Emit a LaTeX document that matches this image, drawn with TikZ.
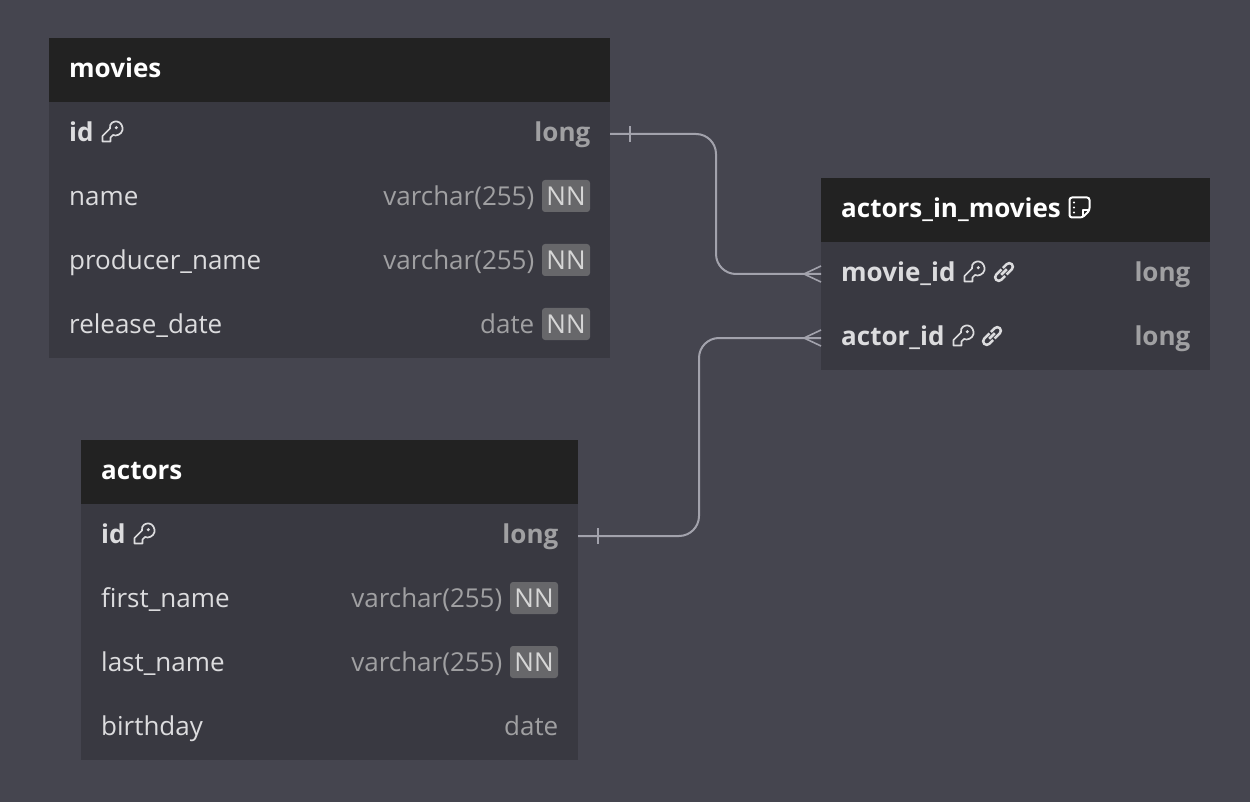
\documentclass[tikz,border=0pt]{standalone}
\usepackage{fontspec}
\setmainfont{Open Sans}
\definecolor{bgc}{HTML}{45454F}
\definecolor{hdc}{HTML}{222222}
\definecolor{rowc}{HTML}{393941}
\definecolor{namec}{HTML}{DCDCDE}
\definecolor{typec}{HTML}{A0A0A2}
\definecolor{nnc}{HTML}{67676A}
\definecolor{nnt}{HTML}{D6D6D6}
\definecolor{linec}{HTML}{A2A2AC}
\tikzset{
  x=1pt,y=-1pt,
  band/.style={anchor=north west,inner sep=0pt,outer sep=0pt,minimum height=64pt,fill=hdc},
  body/.style={anchor=north west,inner sep=0pt,outer sep=0pt,fill=rowc},
  title/.style={anchor=base west,inner sep=0pt,yshift=-0.5pt,text=white,font=\fontsize{26}{30}\selectfont\bfseries},
  colname/.style={anchor=base west,inner sep=0pt,yshift=-0.5pt,text=namec,font=\fontsize{26}{30}\selectfont},
  pkname/.style={colname,font=\fontsize{26}{30}\selectfont\bfseries},
  coltype/.style={anchor=base east,inner sep=0pt,xshift=0.5pt,yshift=-0.5pt,text=typec,font=\fontsize{26}{30}\selectfont},
  pktype/.style={coltype,font=\fontsize{26}{30}\selectfont\bfseries},
  nnbox/.style={anchor=center,inner sep=0pt,minimum width=48pt,minimum height=32pt,rounded corners=3pt,fill=nnc,text=nnt,font=\fontsize{26}{30}\selectfont},
  rel/.style={draw=linec,line width=2pt,rounded corners=20pt},
  relmark/.style={draw=linec,line width=1.6pt},
  keyicon/.pic={
    \draw[namec,line width=1.7pt,line join=round]
      (-9.5,4) -- (-2,-3.5) .. controls (-3,-9) and (2,-11) .. (5,-10.5)
      .. controls (9,-10) and (11,-5.5) .. (10.5,-2)
      .. controls (9.5,2.5) and (4,4.5) .. (1,3)
      -- (-1.5,5.5) -- (-1.5,9.5) -- (-9.5,9.5) -- cycle;
    \fill[namec] (4.3,-4.3) circle (1.7pt);
  },
  linkicon/.pic={
    \draw[namec,line width=2.5pt,rounded corners=3.5pt,rotate=45]
      (0,-3.6) -- (-11,-3.6) -- (-11,3.6) -- (-2,3.6);
    \draw[namec,line width=2.5pt,rounded corners=3.5pt,rotate=45]
      (0,3.6) -- (11,3.6) -- (11,-3.6) -- (2,-3.6);
    \draw[namec,line width=2.5pt,rotate=45] (-4,0) -- (4,0);
  },
  noteicon/.pic={
    \draw[white,line width=2pt,line join=round,rounded corners=2.5pt]
      (-10,-10) -- (10,-10) -- (10,3) -- (3,10) -- (-10,10) -- cycle;
    \draw[white,line width=2pt,line join=round] (10,3) -- (3,3) -- (3,10);
    \fill[white] (-5.5,-5) circle (1.1pt) (-5.5,0) circle (1.1pt) (-5.5,5) circle (1.1pt);
  }
}
\begin{document}
\begin{tikzpicture}
\useasboundingbox (0,0) rectangle (1250,802);
\fill[bgc] (0,0) rectangle (1250,802);

% movies
\node[body,minimum width=561pt,minimum height=256pt] (mbody) at (49,102) {};
\node[band,minimum width=561pt] (mhead) at (49,38) {};
\node[title] (mt) at (69,77) {movies};
\node[pkname] (m1) at (69,141) {id};
\pic at (112,132) {keyicon};
\node[pktype] (m1t) at (590,141) {long};
\node[colname] (m2) at (69,205) {name};
\node[nnbox] (m2n) at (566,196) {NN};
\node[coltype] (m2t) at (534,205) {varchar(255)};
\node[colname] (m3) at (69,269) {producer\_name};
\node[nnbox] (m3n) at (566,260) {NN};
\node[coltype] (m3t) at (534,269) {varchar(255)};
\node[colname] (m4) at (69,333) {release\_date};
\node[nnbox] (m4n) at (566,324) {NN};
\node[coltype] (m4t) at (534,333) {date};

% actors
\node[body,minimum width=497pt,minimum height=256pt] (abody) at (81,504) {};
\node[band,minimum width=497pt] (ahead) at (81,440) {};
\node[title] (at) at (101,479) {actors};
\node[pkname] (a1) at (101,543) {id};
\pic at (144,534) {keyicon};
\node[pktype] (a1t) at (558,543) {long};
\node[colname] (a2) at (101,607) {first\_name};
\node[nnbox] (a2n) at (534,598) {NN};
\node[coltype] (a2t) at (502,607) {varchar(255)};
\node[colname] (a3) at (101,671) {last\_name};
\node[nnbox] (a3n) at (534,662) {NN};
\node[coltype] (a3t) at (502,671) {varchar(255)};
\node[colname] (a4) at (101,735) {birthday};
\node[coltype] (a4t) at (558,735) {date};

% actors_in_movies
\node[body,minimum width=389pt,minimum height=128pt] (jbody) at (821,242) {};
\node[band,minimum width=389pt] (jhead) at (821,178) {};
\node[title] (jt) at (841,217) {actors\_in\_movies};
\pic at (1079.500,207.500) {noteicon};
\node[pkname] (j1) at (841,281) {movie\_id};
\pic at (974,272) {keyicon};
\pic at (1004,272) {linkicon};
\node[pktype] (j1t) at (1190,281) {long};
\node[pkname] (j2) at (841,345) {actor\_id};
\pic at (963,336) {keyicon};
\pic at (992,336) {linkicon};
\node[pktype] (j2t) at (1190,345) {long};

% connectors
\coordinate (ms) at (mbody.north east |- 0,134);
\coordinate (je1) at (jbody.north west |- 0,274);
\coordinate (as) at (abody.north east |- 0,536);
\coordinate (je2) at (jbody.north west |- 0,338);
\draw[rel] (ms) -- (716,134) -- (716,274) -- (je1);
\draw[rel] (as) -- (699,536) -- (699,338) -- (je2);
\draw[relmark] ([xshift=20pt,yshift=-8pt]ms) -- ([xshift=20pt,yshift=8pt]ms);
\draw[relmark] ([xshift=20pt,yshift=-8pt]as) -- ([xshift=20pt,yshift=8pt]as);
\draw[relmark] ([yshift=-8pt]je1) -- ([xshift=-17pt]je1) -- ([yshift=8pt]je1);
\draw[relmark] ([yshift=-8pt]je2) -- ([xshift=-17pt]je2) -- ([yshift=8pt]je2);
\end{tikzpicture}
\end{document}
